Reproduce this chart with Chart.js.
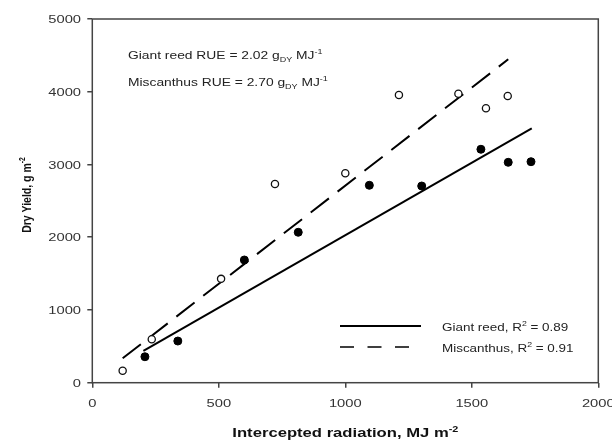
<!DOCTYPE html>
<html>
<head>
<meta charset="utf-8">
<script src="https://cdn.jsdelivr.net/npm/chart.js@4/dist/chart.umd.min.js"></script>
<style>
  html, body { margin: 0; padding: 0; background: #fff; }
  #myChart { display: block; }
</style>
</head>
<body>
<canvas id="myChart" width="612" height="444"></canvas>
<script>
const Giant_x = [208, 338, 601, 814, 1095, 1302, 1536, 1644, 1734];
const Giant_y = [357, 573, 1687, 2068, 2714, 2704, 3209, 3030, 3038];
const Misc_x = [120, 235, 509, 722, 1000, 1212, 1447, 1556, 1642];
const Misc_y = [165, 597, 1428, 2732, 2879, 3955, 3973, 3772, 3941];
const Giant_fit_x = [202, 1737];
const Giant_fit_y = [436, 3497];
const Misc_fit_x = [120, 1644];
const Misc_fit_y = [335, 4446];
const X_ticks = [0, 500, 1000, 1500, 2000];
const Y_ticks = [0, 1000, 2000, 3000, 4000, 5000];

const Stretch = 1.28; // text in the reference is wide
const Family = "'Liberation Sans', Arial, sans-serif";

function to_points(xs, ys) {
  return xs.map((x, i) => ({x: x, y: ys[i]}));
}

function run_font(run, size, bold) {
  let s = size;
  if (run.k == 'sup' || run.k == 'sub') { s = size * 0.65; }
  return (bold ? 'bold ' : '') + s + 'px ' + Family;
}

function runs_width(ctx, runs, size, bold) {
  let w = 0;
  for (const r of runs) {
    ctx.font = run_font(r, size, bold);
    w += ctx.measureText(r.t).width;
  }
  return w;
}

// x, y is the anchor; base is the baseline offset in the text's own frame
function draw_runs(ctx, runs, x, y, size, opts) {
  ctx.save();
  ctx.translate(x, y);
  ctx.scale(Stretch, 1);
  if (opts.rotate) { ctx.rotate(-Math.PI / 2); }
  const w = runs_width(ctx, runs, size, opts.bold);
  let cx = 0;
  if (opts.align == 'center') { cx = -w / 2; }
  if (opts.align == 'right') { cx = -w; }
  ctx.fillStyle = opts.color || '#222';
  ctx.textAlign = 'left';
  ctx.textBaseline = 'alphabetic';
  const base = opts.base || 0;
  for (const r of runs) {
    ctx.font = run_font(r, size, opts.bold);
    let dy = 0;
    if (r.k == 'sup') { dy = -0.42 * size; }
    if (r.k == 'sub') { dy = 0.28 * size; }
    ctx.fillText(r.t, cx, base + dy);
    cx += ctx.measureText(r.t).width;
  }
  ctx.restore();
}

const frame_plugin = {
  id: 'frame',
  afterDraw(chart) {
    const ctx = chart.ctx;
    const a = chart.chartArea;
    const sx = chart.scales.x;
    const sy = chart.scales.y;

    ctx.save();
    ctx.strokeStyle = '#444';
    ctx.lineWidth = 1.5;
    ctx.strokeRect(a.left, a.top, a.right - a.left, a.bottom - a.top);
    ctx.restore();

    // tick labels
    for (const t of sx.ticks) {
      draw_runs(ctx, [{t: String(t.value)}], sx.getPixelForValue(t.value), 407, 11.5, {align: 'center', color: '#333'});
    }
    for (const t of sy.ticks) {
      draw_runs(ctx, [{t: String(t.value)}], 81, sy.getPixelForValue(t.value) + 4.1, 11.5, {align: 'right', color: '#333'});
    }

    // axis titles
    draw_runs(ctx, [{t: 'Intercepted radiation, MJ m'}, {t: '-2', k: 'sup'}],
      (a.left + a.right) / 2, 437, 13, {align: 'center', bold: true, color: '#111'});
    draw_runs(ctx, [{t: 'Dry Yield, g m'}, {t: '-2', k: 'sup'}],
      26, 195, 10.5, {align: 'center', bold: true, rotate: true, base: 3.8, color: '#111'});

    // RUE notes
    draw_runs(ctx, [{t: 'Giant reed RUE = 2.02 g'}, {t: 'DY', k: 'sub'}, {t: ' MJ'}, {t: '-1', k: 'sup'}],
      128, 59, 10.8, {align: 'left'});
    draw_runs(ctx, [{t: 'Miscanthus RUE = 2.70 g'}, {t: 'DY', k: 'sub'}, {t: ' MJ'}, {t: '-1', k: 'sup'}],
      128, 86, 10.8, {align: 'left'});

    // legend
    ctx.save();
    ctx.strokeStyle = '#000';
    ctx.lineWidth = 2;
    ctx.beginPath();
    ctx.moveTo(340, 326);
    ctx.lineTo(421, 326);
    ctx.stroke();
    ctx.lineWidth = 1.5;
    ctx.setLineDash([14, 13.5]);
    ctx.beginPath();
    ctx.moveTo(340, 347);
    ctx.lineTo(410, 347);
    ctx.stroke();
    ctx.restore();
    draw_runs(ctx, [{t: 'Giant reed, R'}, {t: '2', k: 'sup'}, {t: ' = 0.89'}], 442, 330.5, 10.5, {align: 'left'});
    draw_runs(ctx, [{t: 'Miscanthus, R'}, {t: '2', k: 'sup'}, {t: ' = 0.91'}], 442, 351.5, 10.5, {align: 'left'});
  }
};

const chart = new Chart('myChart', {
  type: 'scatter',
  data: {
    datasets: [{
      label: 'Giant reed',
      data: to_points(Giant_x, Giant_y),
      pointRadius: 4,
      pointBackgroundColor: '#000',
      pointBorderColor: '#000',
      pointBorderWidth: 1,
      order: 0,
    }, {
      label: 'Miscanthus',
      data: to_points(Misc_x, Misc_y),
      pointRadius: 3.6,
      pointBackgroundColor: '#fff',
      pointBorderColor: '#111',
      pointBorderWidth: 1.3,
      order: 0,
    }, {
      label: 'Giant reed fit',
      data: to_points(Giant_fit_x, Giant_fit_y),
      showLine: true,
      pointRadius: 0,
      borderColor: '#000',
      borderWidth: 2,
      order: 1,
    }, {
      label: 'Miscanthus fit',
      data: to_points(Misc_fit_x, Misc_fit_y),
      showLine: true,
      pointRadius: 0,
      borderColor: '#000',
      borderWidth: 2,
      borderDash: [23, 11],
      order: 1,
    }]
  },
  options: {
    responsive: false,
    animation: false,
    layout: {padding: {top: 19, right: 13.7, left: 0, bottom: 0}, autoPadding: false},
    plugins: {legend: {display: false}, tooltip: {enabled: false}},
    scales: {
      x: {
        type: 'linear', min: 0, max: 2000,
        afterBuildTicks: s => { s.ticks = X_ticks.map(v => ({value: v})); },
        afterFit: s => { s.height = 61.3; },
        ticks: {display: false},
        grid: {drawOnChartArea: false, drawTicks: true, tickLength: 5, color: '#444', lineWidth: 1.5},
        border: {display: false},
      },
      y: {
        type: 'linear', min: 0, max: 5000,
        afterBuildTicks: s => { s.ticks = Y_ticks.map(v => ({value: v})); },
        afterFit: s => { s.width = 92.3; },
        ticks: {display: false},
        grid: {drawOnChartArea: false, drawTicks: true, tickLength: 5, color: '#444', lineWidth: 1.5},
        border: {display: false},
      },
    },
  },
  plugins: [frame_plugin],
});
</script>
</body>
</html>
